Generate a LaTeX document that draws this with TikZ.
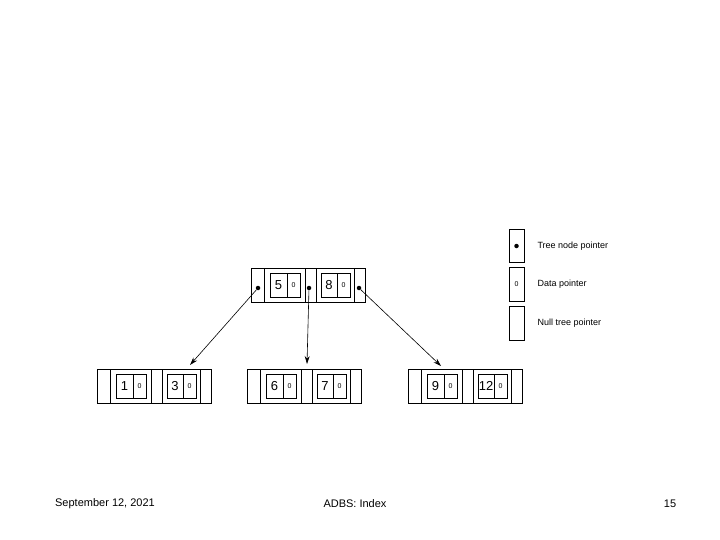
\documentclass[tikz,border=0pt]{standalone}
\usepackage{fontspec}
\setmainfont{Liberation Sans}
\usetikzlibrary{calc}
\usetikzlibrary{arrows.meta}

\tikzset{box/.style={draw,line width=.7pt},
         ptrdot/.style={circle,fill,inner sep=0pt,minimum size=4.5pt},
         keytext/.style={font=\fontsize{13}{13}\selectfont},
         datatext/.style={font=\fontsize{7}{7}\selectfont},
         legtext/.style={font=\fontsize{9}{9}\selectfont,anchor=west},
         foot/.style={font=\fontsize{11}{11}\selectfont}}

% one tree node: name, left x, top y, two keys
\newcommand{\btnode}[5]{
\coordinate (#1) at (#2,#3);
\draw[box] (#1) rectangle ++(114,34);
\draw[box] ($(#1)+(13,0)$) --++(0,34) ($(#1)+(54,0)$) --++(0,34);
\draw[box] ($(#1)+(65,0)$) --++(0,34) ($(#1)+(103,0)$) --++(0,34);
\draw[box] ($(#1)+(19,5)$) rectangle ++(30,24) ($(#1)+(36,5)$) --++(0,24);
\draw[box] ($(#1)+(70,5)$) rectangle ++(29,24) ($(#1)+(86,5)$) --++(0,24);
\node[keytext] at ($(#1)+(27.5,17)$) {#4};
\node[datatext] at ($(#1)+(42.5,17)$) {0};
\node[keytext] at ($(#1)+(78,17)$) {#5};
\node[datatext] at ($(#1)+(92.5,17)$) {0};
\coordinate (#1-p1) at ($(#1)+(7,20)$);
\coordinate (#1-p2) at ($(#1)+(58,20)$);
\coordinate (#1-p3) at ($(#1)+(108,20)$);
\coordinate (#1-k1) at ($(#1)+(33,-3)$);
\coordinate (#1-m) at ($(#1)+(60,-5)$);
\coordinate (#1-k2) at ($(#1)+(93,-4)$);
}

\begin{document}
\begin{tikzpicture}[x=1pt,y=-1pt]
\useasboundingbox (0,0) rectangle (720,540);
\btnode{root}{251}{268}{5}{8}
\btnode{leafa}{97}{369}{1}{3}
\btnode{leafb}{247}{369}{6}{7}
\btnode{leafc}{408}{369}{9}{12}
\foreach \p in {p1,p2,p3}
  \node[ptrdot] (root-d\p) at (root-\p) {};
\draw[-{Stealth[length=8pt,width=5pt]},line width=.6pt] (root-dp1) -- (leafa-k2);
\draw[-{Stealth[length=8pt,width=5pt]},line width=.6pt] (root-dp2) -- (leafb-m);
\draw[-{Stealth[length=8pt,width=5pt]},line width=.6pt] (root-dp3) -- (leafc-k1);
% legend
\draw[box] (509,229) rectangle (524,262);
\node[ptrdot] (legdot) at (516.5,246) {};
\node[legtext] (legtree) at (534,246) {Tree node pointer};
\draw[box] (509,267) rectangle (524,301);
\node[datatext] (legzero) at (516.5,284) {0};
\node[legtext] (legdata) at (534,284) {Data pointer};
\draw[box] (509,306) rectangle (524,340);
\node[legtext] (legnull) at (534,323) {Null tree pointer};
% footer
\node[foot] (date) at (105,504) {September 12, 2021};
\node[foot] (title) at (355,504) {ADBS: Index};
\node[foot] (page) at (670,504) {15};
\end{tikzpicture}
\end{document}
